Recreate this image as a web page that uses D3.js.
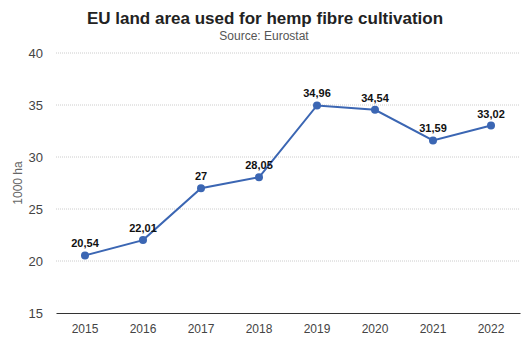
<!DOCTYPE html>
<html>
<head>
<meta charset="utf-8">
<script src="https://cdn.jsdelivr.net/npm/d3@7"></script>
<style>
  body { margin: 0; background: #fff; }
  svg { display: block; font-family: Arial, "Liberation Sans", sans-serif; }
</style>
</head>
<body>
<svg width="529" height="353"></svg>
<script>
var years = ["2015", "2016", "2017", "2018", "2019", "2020", "2021", "2022"];
var area = [20.54, 22.01, 27, 28.05, 34.96, 34.54, 31.59, 33.02];
var yTicks = [15, 20, 25, 30, 35, 40];

var svg = d3.select("svg");
var margin = {left: 56, right: 9, top: 53, bottom: 40};
var width = 529, height = 353;

var x = d3.scaleBand()
    .domain(years)
    .range([margin.left, width - margin.right])
    .padding(0);

var y = d3.scaleLinear()
    .domain([15, 40])
    .range([height - margin.bottom, margin.top]);

// title
svg.append("text")
    .attr("x", 265).attr("y", 24)
    .attr("text-anchor", "middle")
    .attr("font-size", 17).attr("font-weight", "bold")
    .attr("fill", "#222")
    .text("EU land area used for hemp fibre cultivation");

svg.append("text")
    .attr("x", 264).attr("y", 40)
    .attr("text-anchor", "middle")
    .attr("font-size", 12)
    .attr("fill", "#555")
    .text("Source: Eurostat");

// grid
var grid = svg.append("g");
grid.selectAll("line")
    .data(yTicks.filter(function(d) { return d !== 15; }))
    .enter().append("line")
    .attr("x1", margin.left).attr("x2", width - margin.right)
    .attr("y1", function(d) { return y(d); })
    .attr("y2", function(d) { return y(d); })
    .attr("stroke", "#ccc")
    .attr("stroke-dasharray", "1,1");

// y axis
var yAxis = svg.append("g")
    .attr("transform", "translate(" + margin.left + ",0)")
    .call(d3.axisLeft(y).tickValues(yTicks).tickSize(0).tickPadding(13));
yAxis.select(".domain").remove();
yAxis.selectAll("text")
    .attr("font-size", 13).attr("fill", "#444")
    .attr("font-family", "Arial, 'Liberation Sans', sans-serif");

// x axis
var xAxis = svg.append("g")
    .attr("transform", "translate(0," + y(15) + ")")
    .call(d3.axisBottom(x).tickSize(0).tickPadding(11));
xAxis.select(".domain").attr("stroke", "#333");
xAxis.selectAll("text")
    .attr("font-size", 12).attr("fill", "#444")
    .attr("font-family", "Arial, 'Liberation Sans', sans-serif");

svg.append("text")
    .attr("transform", "translate(22," + (y(27.5)) + ") rotate(-90)")
    .attr("text-anchor", "middle")
    .attr("font-size", 12)
    .attr("fill", "#666")
    .text("1000 ha");

var pts = years.map(function(d, i) { return {year: d, value: area[i]}; });

var line = d3.line()
    .x(function(d) { return x(d.year) + x.bandwidth() / 2; })
    .y(function(d) { return y(d.value); });

svg.append("path")
    .datum(pts)
    .attr("d", line)
    .attr("fill", "none")
    .attr("stroke", "#3b66b3")
    .attr("stroke-width", 2);

svg.append("g").selectAll("circle")
    .data(pts)
    .enter().append("circle")
    .attr("cx", function(d) { return x(d.year) + x.bandwidth() / 2; })
    .attr("cy", function(d) { return y(d.value); })
    .attr("r", 4)
    .attr("fill", "#3b66b3");

svg.append("g").selectAll("text")
    .data(pts)
    .enter().append("text")
    .attr("x", function(d) { return x(d.year) + x.bandwidth() / 2; })
    .attr("y", function(d) { return y(d.value) - 8; })
    .attr("text-anchor", "middle")
    .attr("font-size", 11).attr("font-weight", "bold")
    .attr("fill", "#111")
    .text(function(d) { return String(d.value).replace(".", ","); });
</script>
</body>
</html>
